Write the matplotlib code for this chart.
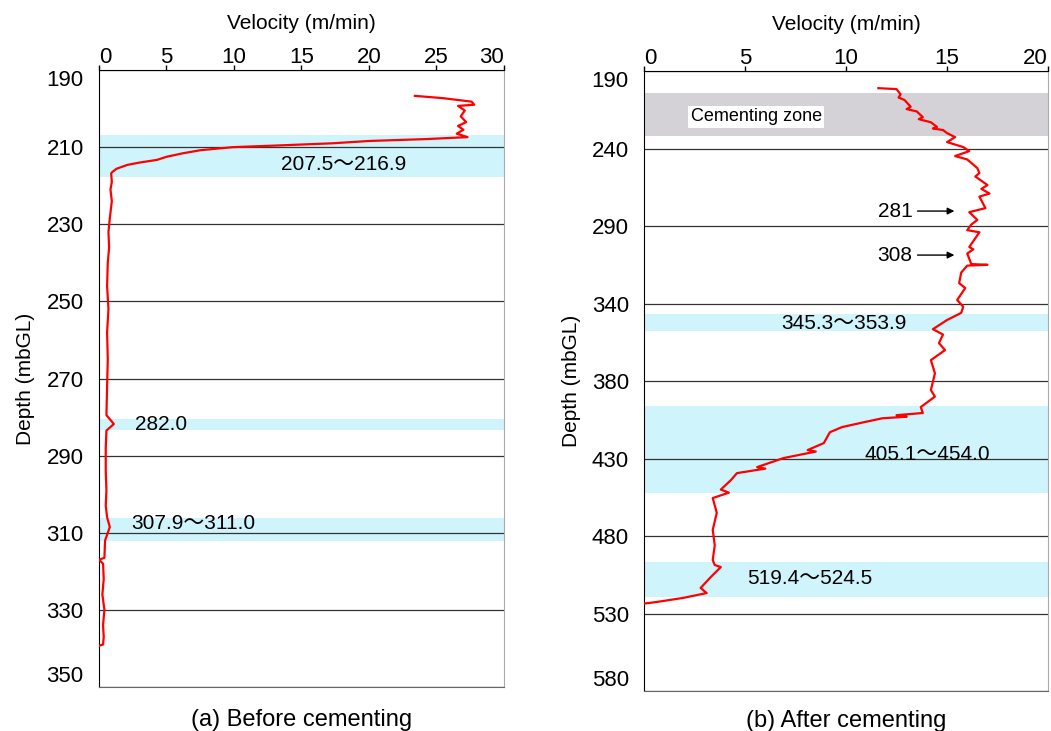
import numpy as np
import matplotlib
matplotlib.use("Agg")
import matplotlib.pyplot as plt

plt.rcParams['font.family'] = ['Liberation Sans', 'Noto Sans CJK JP', 'DejaVu Sans']

# (a) before cementing: velocity (m/min) vs depth (mbGL)
vel_a = [23.4, 25.5, 27.6, 27.8, 26.6, 27.1, 26.8, 27.2, 26.6, 27.0, 26.5, 27.3,
         24.3, 20.0, 17.3, 13.0, 9.9, 7.5, 6.2, 5.0, 4.3, 3.0, 2.1, 1.3, 1.0,
         0.9, 0.95, 0.85, 0.95, 0.85, 0.8, 0.7, 0.75, 0.65, 0.6, 0.7, 0.6, 0.65,
         0.6, 0.55, 1.1, 0.55, 0.5, 0.5, 0.55, 0.5, 0.6, 0.8, 0.6, 0.45, 0.4,
         0.0, 0.3, 0.35, 0.25, 0.4, 0.3, 0.35, 0.3, 0.0]
dep_a = [196.7, 197.3, 198.2, 199.0, 199.3, 200.5, 202.0, 203.5, 204.5, 205.5,
         206.5, 207.4, 207.9, 208.4, 209.0, 209.6, 210.0, 210.8, 211.6, 212.5,
         213.3, 214.0, 214.6, 215.6, 216.4, 216.8, 219.0, 221.0, 224.0, 227.0,
         228.5, 232.0, 236.0, 240.0, 246.0, 252.0, 258.0, 265.0, 272.0, 279.5,
         281.8, 283.5, 288.0, 294.0, 299.0, 303.0, 306.0, 308.5, 310.5, 312.0,
         316.5, 317.0, 318.0, 322.0, 326.0, 330.0, 334.0, 337.0, 339.0, 339.3]

# (b) after cementing
vel_b = [11.6, 12.5, 12.7, 12.6, 12.9, 13.2, 13.0, 13.5, 13.8, 13.6, 14.2, 14.5,
         14.3, 14.8, 15.0, 15.4, 15.0, 15.8, 16.1, 15.4, 16.0, 16.5, 16.6, 16.4,
         17.0, 16.7, 17.1, 16.6, 16.9, 16.1, 16.5, 16.2, 16.0, 16.6, 16.1, 16.3,
         16.0, 16.2, 17.0, 16.0, 15.7, 15.6, 15.9, 15.5, 15.8, 15.7, 15.0, 14.3,
         14.8, 14.6, 14.9, 14.2, 14.4, 14.2, 14.4, 13.7, 13.8, 12.5, 13.0, 11.8,
         10.9, 9.8, 9.2, 8.9, 8.1, 8.5, 6.9, 5.6, 6.0, 4.6, 4.3, 3.8, 4.2, 3.4,
         3.6, 3.4, 3.5, 3.4, 3.5, 3.8, 3.3, 2.8, 3.1, 1.9, 0.6, 0.05]
dep_b = [201.0, 201.6, 205.0, 207.0, 208.7, 213.0, 214.5, 216.0, 219.7, 221.0,
         223.0, 226.0, 227.0, 228.0, 230.0, 232.6, 235.8, 239.0, 241.6, 244.8,
         247.0, 252.6, 255.8, 258.0, 263.5, 266.0, 269.0, 271.0, 278.4, 281.0,
         286.0, 289.0, 292.6, 294.0, 303.5, 305.0, 307.7, 314.5, 315.0, 315.5,
         320.0, 326.8, 330.0, 337.7, 342.0, 346.0, 350.6, 356.5, 360.0, 365.5,
         370.0, 376.5, 385.0, 395.8, 400.0, 406.8, 410.6, 412.0, 413.0, 414.0,
         416.5, 419.7, 423.0, 430.0, 434.5, 435.5, 439.7, 445.5, 446.5, 449.4,
         453.9, 460.0, 462.0, 465.5, 475.0, 486.0, 496.0, 505.5, 508.7, 510.0,
         516.5, 523.5, 526.8, 530.0, 532.6, 533.5]

bands_a = [(206.9, 217.7), (280.5, 283.4), (306.1, 312.1)]
labels_a = ["207.5〜216.9", "282.0", "307.9〜311.0"]
label_pos_a = [(13.5, 214.6), (2.7, 281.8), (2.4, 307.5)]

bands_b = [(346.8, 357.7), (406.1, 462.0), (506.8, 529.4)]
labels_b = ["345.3〜353.9", "405.1〜454.0", "519.4〜524.5"]
label_pos_b = [(6.8, 352.6), (10.9, 437.1), (5.1, 517.7)]
cement_zone = (204.2, 232.0)
arrow_labels = ["281", "308"]
arrow_depths = [280.3, 308.7]

ticks_a = [190, 210, 230, 250, 270, 290, 310, 330, 350]
tick_labels_b = ["190", "240", "290", "340", "380", "430", "480", "530", "580"]

cyan = '#cff4fb'
fig = plt.figure(figsize=(10.51, 7.31), dpi=100)
ax1 = fig.add_axes([0.0942, 0.0602, 0.3853, 0.844])
ax2 = fig.add_axes([0.6128, 0.0547, 0.3844, 0.848])


def style(ax):
    ax.xaxis.tick_top()
    ax.xaxis.set_label_position('top')
    ax.tick_params(axis='x', direction='out', length=3.5, width=1, pad=-2, labelsize=16)
    ax.tick_params(axis='y', length=0, pad=11, labelsize=16)
    ax.spines['left'].set_color('black')
    ax.spines['top'].set_color('black')
    ax.spines['right'].set_color('#aaaaaa')
    ax.spines['bottom'].set_color('#666666')
    ax.set_axisbelow(True)
    ax.grid(axis='y', color='#333333', lw=0.9)
    ax.set_xlabel("Velocity (m/min)", fontsize=15, labelpad=13)
    ax.set_ylabel("Depth (mbGL)", fontsize=15, labelpad=8)


def nudge_end_labels(ax):
    xl = ax.get_xticklabels()
    xl[0].set_ha('left')
    xl[-1].set_ha('right')
    yl = ax.get_yticklabels()
    yl[0].set_va('top')
    yl[-1].set_va('bottom')


# panel (a)
for (top, bot), lab, (tx, ty) in zip(bands_a, labels_a, label_pos_a):
    ax1.axhspan(top, bot, color=cyan, lw=0, zorder=0.2)
    ax1.text(tx, ty, lab, fontsize=15, ha='left', va='center')
ax1.plot(vel_a, dep_a, color='#ff0000', lw=1.6, zorder=3)
ax1.set_xlim(0, 30)
ax1.set_ylim(350, 190)
ax1.set_xticks(range(0, 31, 5))
ax1.set_yticks(ticks_a)
style(ax1)
ax1.text(0.5, -0.035, "(a) Before cementing", transform=ax1.transAxes,
         ha='center', va='top', fontsize=17)

# panel (b)
ax2.axhspan(*cement_zone, color='#d4d2d6', lw=0, zorder=0.2)
ax2.text(2.3, 219.5, "Cementing zone", fontsize=13, ha='left', va='center',
         bbox=dict(facecolor='white', edgecolor='none', pad=2))
for (top, bot), lab, (tx, ty) in zip(bands_b, labels_b, label_pos_b):
    ax2.axhspan(top, bot, color=cyan, lw=0, zorder=0.2)
    ax2.text(tx, ty, lab, fontsize=15, ha='left', va='center')
for lab, d in zip(arrow_labels, arrow_depths):
    ax2.text(13.3, d, lab, fontsize=15, ha='right', va='center')
    ax2.annotate('', xy=(15.5, d), xytext=(13.4, d),
                 arrowprops=dict(arrowstyle='-|>', color='black', lw=1, mutation_scale=10))
ax2.plot(vel_b, dep_b, color='#ff0000', lw=1.6, zorder=3)
ax2.set_xlim(0, 20)
ax2.set_ylim(590, 190)
ax2.set_xticks(range(0, 21, 5))
ax2.set_yticks(np.linspace(190, 590, len(tick_labels_b)))
ax2.set_yticklabels(tick_labels_b)
style(ax2)
ax2.text(0.5, -0.03, "(b) After cementing", transform=ax2.transAxes,
         ha='center', va='top', fontsize=17)

nudge_end_labels(ax1)
nudge_end_labels(ax2)

fig.savefig("out.png", dpi=100)
